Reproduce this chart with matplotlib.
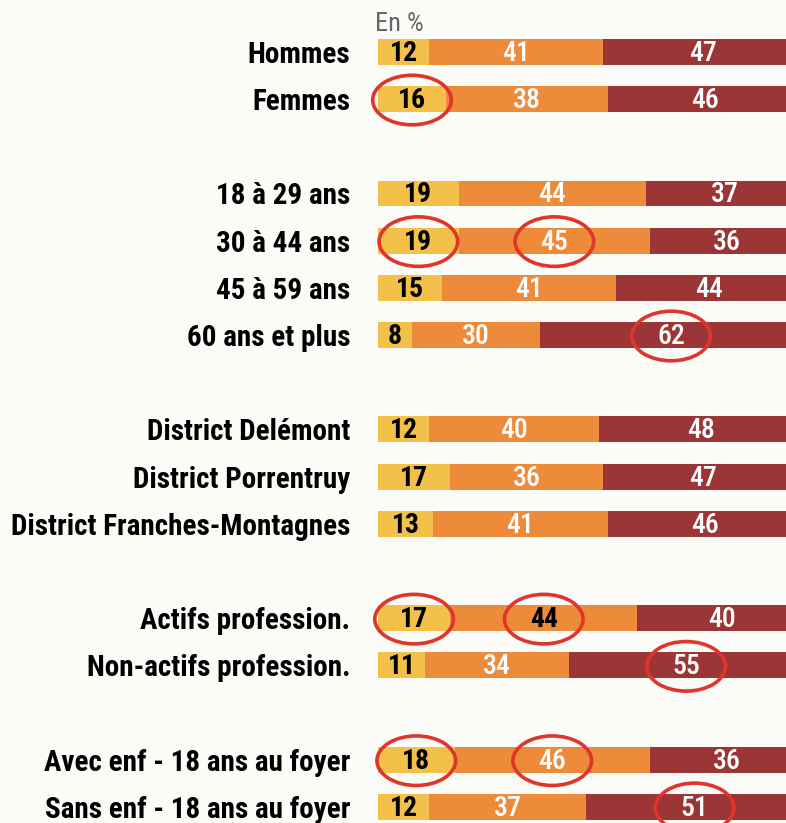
import matplotlib.pyplot as plt
from matplotlib.patches import Ellipse
from matplotlib import font_manager

# Data (percent)
labels = ["Hommes", "Femmes",
          "18 à 29 ans", "30 à 44 ans", "45 à 59 ans", "60 ans et plus",
          "District Delémont", "District Porrentruy", "District Franches-Montagnes",
          "Actifs profession.", "Non-actifs profession.",
          "Avec enf - 18 ans au foyer", "Sans enf - 18 ans au foyer"]
rows = [0, 1, 3, 4, 5, 6, 8, 9, 10, 12, 13, 15, 16]
part1 = [12, 16, 19, 19, 15, 8, 12, 17, 13, 17, 11, 18, 12]
part2 = [41, 38, 44, 45, 41, 30, 40, 36, 41, 44, 34, 46, 37]
part3 = [47, 46, 37, 36, 44, 62, 48, 47, 46, 40, 55, 36, 51]

# circled values: (label index, segment index)
circled = [(1, 0), (3, 0), (3, 1), (5, 2), (9, 0), (9, 1), (10, 2), (11, 0), (11, 1), (12, 2)]

colors = ["#f3c04a", "#ee8b3b", "#9c3636"]
bg = "#fbfbf8"

# pick a narrow font that has a real bold face
candidates = ["Arial Narrow", "Liberation Sans Narrow", "Roboto Condensed", "Archivo Narrow",
              "Fira Sans Condensed", "IBM Plex Sans Condensed", "Encode Sans Condensed",
              "Asap Condensed", "Barlow Semi Condensed", "PT Sans Narrow", "Pragati Narrow"]
bold_names = {f.name for f in font_manager.fontManager.ttflist
              if isinstance(f.weight, int) and f.weight >= 700}
narrow = next((c for c in candidates if c in bold_names), "DejaVu Sans")
plt.rcParams['font.family'] = [narrow, 'DejaVu Sans']
label_size = 21 if narrow != "DejaVu Sans" else 15

fig = plt.figure(figsize=(7.86, 8.23), dpi=100, facecolor=bg)
ax = fig.add_axes([378 / 786, 0, 408 / 786, 1])
ax.set_facecolor(bg)

segments = [part1, part2, part3]
lefts = [0] * len(rows)
for k, seg in enumerate(segments):
    ax.barh(rows, seg, left=lefts, height=0.55, color=colors[k], linewidth=0)
    for i, v in enumerate(seg):
        c = "black" if k == 0 or (i, k) == (9, 1) else "white"
        w = "bold" if c == "black" else "medium"
        ax.text(lefts[i] + v / 2, rows[i] + 0.03, str(v), ha="center", va="center",
                color=c, fontsize=20, fontweight=w)
    lefts = [a + b for a, b in zip(lefts, seg)]

# red hand-drawn style circles
for i, k in circled:
    start = sum(segments[j][i] for j in range(k))
    cx = start + segments[k][i] / 2
    ax.add_patch(Ellipse((cx, rows[i] + 0.02), 18.5, 1.05, fill=False,
                         edgecolor="#e0352b", linewidth=2.6, clip_on=False))

ax.text(-0.8, -0.6, "En %", color="#666666", fontsize=19, ha="left", va="center")

ax.set_xlim(0, 96)
ax.set_ylim(16.34, -1.1)
ax.set_yticks(rows)
ax.set_yticklabels(labels, fontsize=label_size, fontweight="bold")
ax.tick_params(axis="y", length=0, pad=20)
ax.set_xticks([])
for s in ax.spines.values():
    s.set_visible(False)

fig.savefig("out.png", dpi=100, facecolor=bg)
